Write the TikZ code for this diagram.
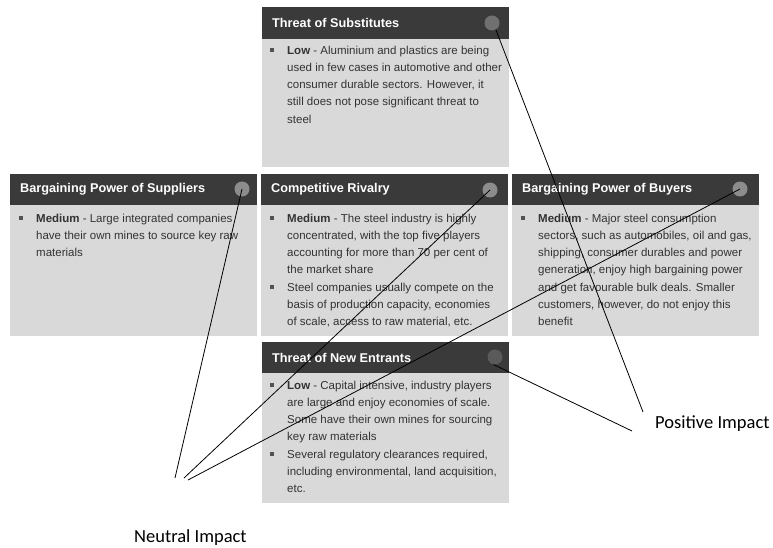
\documentclass[tikz,border=0pt]{standalone}
\usepackage{fontspec}
\setmainfont{Liberation Sans}
\newfontfamily\labelfont{Carlito}

\definecolor{headbg}{HTML}{3A3A3A}
\definecolor{bodybg}{HTML}{D9D9D9}
\definecolor{bodytext}{HTML}{333333}
\definecolor{dotlight}{HTML}{8C8C8C}
\definecolor{dotmid}{HTML}{707070}
\definecolor{dotdark}{HTML}{5A5A5A}

\tikzset{
  panel/.style={fill=bodybg, draw=none},
  headbar/.style={fill=headbg, draw=none},
  title/.style={anchor=west, inner sep=0pt, text=white,
    font=\bfseries\fontsize{12.7}{14}\selectfont},
  dot/.style={circle, minimum size=15pt, inner sep=0pt, draw=none},
  % body text: placed by its top edge, 4.3 above the middle of its first line
  bodytxt/.style={anchor=north west, inner sep=0pt, align=left, text=bodytext,
    font=\fontsize{11.5}{17.2}\selectfont},
  bulletmark/.style={rectangle, fill=bodytext!85, minimum size=3.5pt, inner sep=0pt},
  impact/.style={anchor=west, inner sep=0pt, text=black,
    font=\labelfont\fontsize{18.5}{20}\selectfont},
  link/.style={draw=black, line width=0.8pt},
}

\begin{document}
\begin{tikzpicture}[x=1pt, y=-1pt]
  \useasboundingbox (0,0) rectangle (773,548);
  \fill[white] (0,0) rectangle (773,548);

  % ---- Threat of Substitutes ----
  \fill[panel] (262,7) rectangle (509,167);
  \fill[headbar] (262,7) rectangle (509,39);
  \node[title] (tsub) at (272,23) {Threat of Substitutes};
  \node[dot, fill=dotmid] (dsub) at (492,23) {};
  \node[bulletmark] (bsub) at (272,50) {};
  \node[bodytxt] (xsub) at (287,45.7) {\textbf{Low} - Aluminium and plastics are being\\
    used in few cases in automotive and other\\
    consumer durable sectors. However, it\\
    still does not pose significant threat to\\
    steel};

  % ---- Bargaining Power of Suppliers ----
  \fill[panel] (10,174) rectangle (257,336);
  \fill[headbar] (10,174) rectangle (257,205);
  \node[title] (tsup) at (20,189.5) {Bargaining Power of Suppliers};
  \node[dot, fill=dotlight] (dsup) at (242,189) {};
  \node[bulletmark] (bsup) at (21,218) {};
  \node[bodytxt] (xsup) at (36,213.7) {\textbf{Medium} - Large integrated companies\\
    have their own mines to source key raw\\
    materials};

  % ---- Competitive Rivalry ----
  \fill[panel] (261,174) rectangle (508,336);
  \fill[headbar] (261,174) rectangle (508,205);
  \node[title] (triv) at (271,189.5) {Competitive Rivalry};
  \node[dot, fill=dotlight] (driv) at (490,190) {};
  \node[bulletmark] (briva) at (272,218) {};
  \node[bulletmark] (brivb) at (272,286.8) {};
  \node[bodytxt] (xriv) at (287,213.7) {\textbf{Medium} - The steel industry is highly\\
    concentrated, with the top five players\\
    accounting for more than 70 per cent of\\
    the market share\\
    Steel companies usually compete on the\\
    basis of production capacity, economies\\
    of scale, access to raw material, etc.};

  % ---- Bargaining Power of Buyers ----
  \fill[panel] (512,174) rectangle (759,336);
  \fill[headbar] (512,174) rectangle (759,205);
  \node[title] (tbuy) at (522,189.5) {Bargaining Power of Buyers};
  \node[dot, fill=dotlight] (dbuy) at (740,189) {};
  \node[bulletmark] (bbuy) at (523,218) {};
  \node[bodytxt] (xbuy) at (538,213.7) {\textbf{Medium} - Major steel consumption\\
    sectors, such as automobiles, oil and gas,\\
    shipping, consumer durables and power\\
    generation, enjoy high bargaining power\\
    and get favourable bulk deals. Smaller\\
    customers, however, do not enjoy this\\
    benefit};

  % ---- Threat of New Entrants ----
  \fill[panel] (262,342) rectangle (509,503);
  \fill[headbar] (262,342) rectangle (509,373);
  \node[title] (tnew) at (272,357.5) {Threat of New Entrants};
  \node[dot, fill=dotdark] (dnew) at (495,357) {};
  \node[bulletmark] (bnewa) at (272,385) {};
  \node[bulletmark] (bnewb) at (272,453.8) {};
  \node[bodytxt] (xnew) at (287,380.7) {\textbf{Low} - Capital intensive, industry players\\
    are large and enjoy economies of scale.\\
    Some have their own mines for sourcing\\
    key raw materials\\
    Several regulatory clearances required,\\
    including environmental, land acquisition,\\
    etc.};

  % ---- impact labels and their leader lines ----
  \node[impact] (pos) at (655,424) {Positive Impact};
  \node[impact] (neu) at (134,538) {Neutral Impact};

  \coordinate (posA) at (643,412);
  \coordinate (posB) at (632,431);
  \coordinate (neuA) at (175,478);
  \coordinate (neuB) at (184,478);
  \coordinate (neuC) at (188,480);

  \draw[link] (dsub.-60) -- (posA);
  \draw[link] (dnew.-100) -- (posB);
  \draw[link] (dsup.center) -- (neuA);
  \draw[link] (driv.center) -- (neuB);
  \draw[link] (dbuy.center) -- (neuC);
\end{tikzpicture}
\end{document}
